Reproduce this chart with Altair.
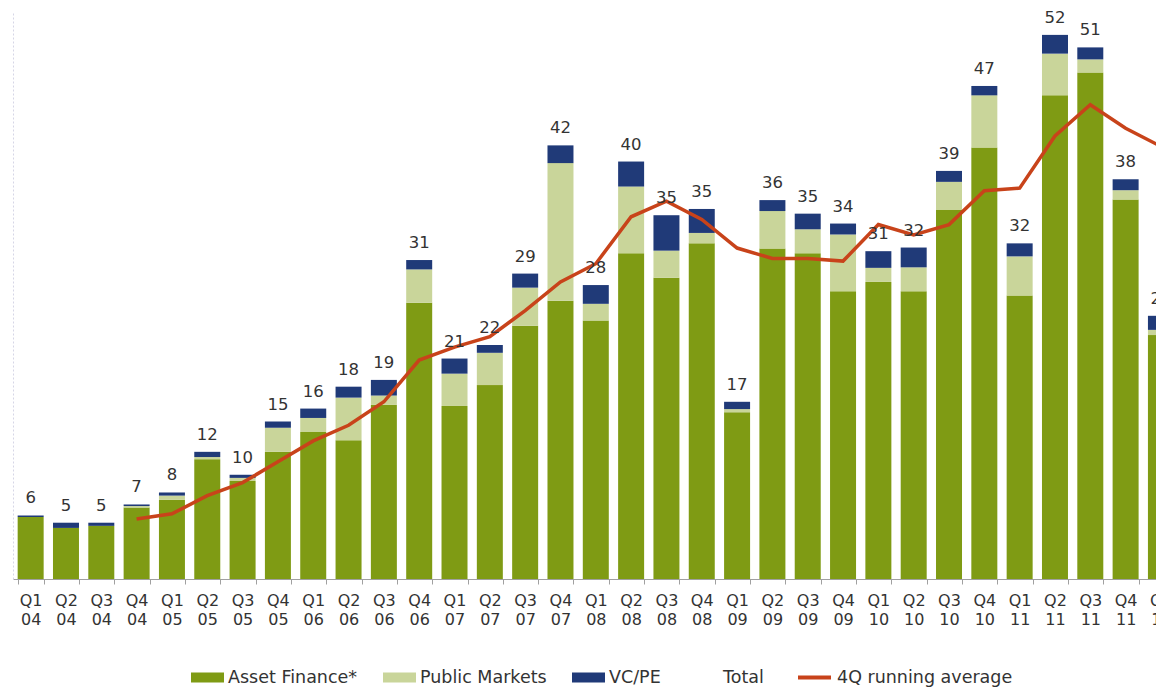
import altair as alt
import pandas as pd

quarters = ["Q1 04", "Q2 04", "Q3 04", "Q4 04", "Q1 05", "Q2 05", "Q3 05", "Q4 05",
            "Q1 06", "Q2 06", "Q3 06", "Q4 06", "Q1 07", "Q2 07", "Q3 07", "Q4 07",
            "Q1 08", "Q2 08", "Q3 08", "Q4 08", "Q1 09", "Q2 09", "Q3 09", "Q4 09",
            "Q1 10", "Q2 10", "Q3 10", "Q4 10", "Q1 11", "Q2 11", "Q3 11", "Q4 11",
            "Q1 12"]

asset_finance = [5.95, 4.9, 5.1, 6.85, 7.6, 11.5, 9.4, 12.2, 14.1, 13.3, 16.7, 26.5,
                 16.6, 18.6, 24.3, 26.7, 24.8, 31.25, 28.9, 32.2, 16.0, 31.7, 31.25, 27.6,
                 28.5, 27.6, 35.4, 41.4, 27.2, 46.4, 48.6, 36.4, 23.4]
public_markets = [0.0, 0.0, 0.0, 0.15, 0.4, 0.2, 0.3, 2.3, 1.35, 4.1, 0.9, 3.2,
                  3.1, 3.1, 3.65, 13.2, 1.6, 6.4, 2.6, 1.0, 0.3, 3.6, 2.3, 5.45,
                  1.35, 2.3, 2.7, 5.0, 3.75, 4.0, 1.25, 0.9, 0.5]
vc_pe = [0.15, 0.5, 0.3, 0.15, 0.3, 0.5, 0.3, 0.6, 0.9, 1.05, 1.5, 0.9,
         1.45, 0.75, 1.35, 1.7, 1.8, 2.4, 3.4, 2.3, 0.7, 1.05, 1.5, 1.05,
         1.6, 1.9, 1.05, 0.9, 1.25, 1.8, 1.15, 1.05, 1.35]
totals = [6, 5, 5, 7, 8, 12, 10, 15, 16, 18, 19, 31, 21, 22, 29, 42, 28, 40, 35, 35,
          17, 36, 35, 34, 31, 32, 39, 47, 32, 52, 51, 38, 25]

avg_quarters = quarters[3:]
running_avg = [5.75, 6.25, 8.0, 9.25, 11.25, 13.25, 14.75, 17.0, 21.0, 22.25, 23.25,
               25.75, 28.5, 30.25, 34.75, 36.25, 34.5, 31.75, 30.75, 30.75, 30.5,
               34.0, 33.0, 34.0, 37.25, 37.5, 42.5, 45.5, 43.25, 41.5]

series = ["Asset Finance*", "Public Markets", "VC/PE"]
legend_names = series + ["Total"]
fill_colors = ["#7f9b14", "#c9d59a", "#203a78", "#ffffff"]
line_name = "4Q running average"
line_color = "#c8431a"
text_color = "#333333"
FONT = "DejaVu Sans"

rows = []
for i, q in enumerate(quarters):
    for k, (name, vals) in enumerate(zip(series, [asset_finance, public_markets, vc_pe])):
        rows.append({"quarter": q, "series": name, "value": vals[i], "order": k})
bars_df = pd.DataFrame(rows)

tot_df = pd.DataFrame({
    "quarter": quarters,
    "total": totals,
    "top": [a + b + c for a, b, c in zip(asset_finance, public_markets, vc_pe)],
})
line_df = pd.DataFrame({"quarter": avg_quarters, "avg": running_avg, "name": line_name})

x_axis = alt.Axis(
    title=None, labelAngle=0,
    labelExpr="datum.label ? split(datum.label, ' ') : ''",
    labelFont=FONT, labelFontSize=16, labelColor=text_color, labelLineHeight=19,
    labelPadding=8, tickBand="extent", ticks=True, tickSize=5, tickColor="#a0a0a0",
    domainColor="#a0a0a0", domainWidth=1, grid=False,
)
# the band range runs past the right edge of the view, as in the cropped original
x_enc = alt.X("quarter:N", sort=quarters,
              scale=alt.Scale(range=[0, 1165.6], paddingInner=0.264, paddingOuter=0.132),
              axis=x_axis)
y_scale = alt.Scale(domain=[0, 54.3], nice=False, zero=True)
y_axis = alt.Axis(title=None, labels=False, ticks=False, grid=False,
                  domainColor="#d6d6e6", domainDash=[2, 2], domainWidth=1)

bars = alt.Chart(bars_df).mark_bar().encode(
    x=x_enc,
    y=alt.Y("value:Q", stack="zero", scale=y_scale, axis=y_axis),
    color=alt.Color(
        "series:N",
        scale=alt.Scale(domain=legend_names, range=fill_colors),
        legend=alt.Legend(
            title=None, orient="none", legendX=178, legendY=648, direction="horizontal",
            symbolType="M-1,-0.3H1V0.3H-1Z", symbolSize=1089, symbolStrokeWidth=0,
            labelFont=FONT, labelFontSize=17.5, labelColor=text_color, labelOffset=4,
            labelLimit=400, columnPadding=25, padding=0,
        ),
    ),
    order=alt.Order("order:Q", sort="ascending"),
)

labels = alt.Chart(tot_df).mark_text(
    dy=-12, baseline="alphabetic", font=FONT, fontSize=16.5, color=text_color
).encode(
    x=x_enc,
    y=alt.Y("top:Q", scale=y_scale, axis=y_axis),
    text=alt.Text("total:Q"),
)

line = alt.Chart(line_df).mark_line(strokeWidth=3.5).encode(
    x=x_enc,
    y=alt.Y("avg:Q", scale=y_scale, axis=y_axis),
    stroke=alt.Stroke(
        "name:N",
        scale=alt.Scale(domain=[line_name], range=[line_color]),
        legend=alt.Legend(
            title=None, orient="none", legendX=783, legendY=646, direction="horizontal",
            symbolType="stroke", symbolSize=1089, symbolStrokeWidth=4,
            labelFont=FONT, labelFontSize=17.5, labelColor=text_color, labelOffset=4,
            labelLimit=400, padding=0,
        ),
    ),
)

chart = alt.layer(bars, line, labels).properties(
    width=1143, height=566,
    autosize=alt.AutoSizeParams(type="none"),
    padding={"left": 5, "top": 5, "right": 0, "bottom": 108},
    background="#ffffff",
).configure_view(stroke=None)

chart.save("out.html", embed_options={"renderer": "svg", "actions": False})
